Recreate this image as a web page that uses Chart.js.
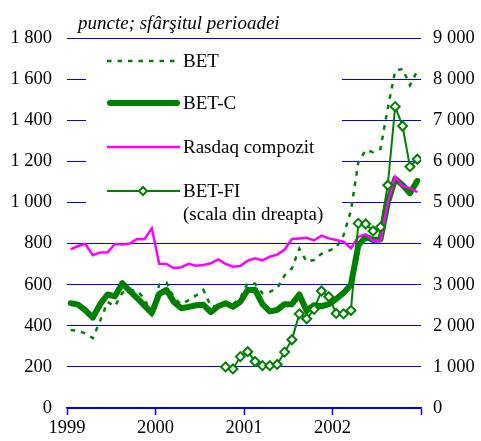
<!DOCTYPE html>
<html>
<head>
<meta charset="utf-8">
<script src="https://cdn.jsdelivr.net/npm/chart.js@4"></script>
<style>
  body { margin: 0; background: #fff; }
</style>
</head>
<body>
<canvas id="chart" width="481" height="441"></canvas>
<script>
// luni ian. 1999 - dec. 2002 (48 de valori), sfarsitul perioadei
const years = ['1999', '2000', '2001', '2002'];

const bet = [
  380, 375, 363, 340, 425, 515, 495, 560, 572, 572, 530, 455,
  600, 610, 535, 505, 525, 548, 574, 495, 495, 512, 505, 535,
  607, 605, 558, 565, 582, 645, 680, 775, 712, 720, 750, 765,
  780, 840, 960, 1195, 1255, 1245, 1260, 1460, 1640, 1650, 1570, 1640
];
const betC = [
  510, 503, 475, 440, 505, 552, 543, 607, 570, 535, 498, 462,
  555, 574, 515, 485, 492, 500, 502, 466, 495, 510, 492, 517,
  574, 575, 505, 470, 477, 505, 505, 552, 472, 500, 495, 505,
  530, 560, 600, 790, 833, 817, 820, 1000, 1115, 1085, 1045, 1105
];
const rasdaq = [
  772, 788, 798, 743, 757, 757, 798, 795, 800, 822, 821, 874,
  702, 701, 680, 685, 701, 692, 696, 704, 723, 701, 687, 691,
  717, 728, 718, 736, 746, 770, 822, 825, 828, 815, 838, 825,
  817, 809, 777, 833, 845, 814, 814, 1000, 1125, 1080, 1070, 1050
];
// BET-FI incepe in oct. 2000 (scala din dreapta)
const betFI = [
  null, null, null, null, null, null, null, null, null, null, null, null,
  null, null, null, null, null, null, null, null, null, 1000, 950, 1250,
  1370, 1130, 1030, 1030, 1060, 1360, 1660, 2290, 2170, 2400, 2845, 2707,
  2300, 2290, 2370, 4490, 4475, 4305, 4400, 5420, 7330, 6860, 5870, 6050
];

const GREEN = '#008000';
const PINK = '#ff00ff';
const BLUE = '#0000ff';
const FONT = 'Liberation Serif';

function toPoints(arr) {
  return arr.map((v, i) => ({ x: i + 0.5, y: v }));
}

function fmt(v) {
  if (v >= 1000) return Math.floor(v / 1000) + ' ' + String(v % 1000).padStart(3, '0');
  return String(v);
}

function stepTicks(max, step) {
  const t = [];
  for (let v = 0; v <= max; v += step) t.push({ value: v });
  return t;
}

// titlu + legenda desenate pe canvas
const legendPlugin = {
  id: 'legendBox',
  beforeDatasetsDraw(chart) {
    const ctx = chart.ctx;
    ctx.save();
    ctx.fillStyle = '#fff';
    ctx.fillRect(86, 44, 256, 182);

    ctx.font = '19px "' + FONT + '"';
    ctx.fillStyle = '#000';
    ctx.textBaseline = 'middle';
    ctx.textAlign = 'left';

    // BET
    ctx.strokeStyle = GREEN;
    ctx.lineWidth = 2.5;
    ctx.setLineDash([4.5, 6]);
    ctx.beginPath(); ctx.moveTo(107, 61); ctx.lineTo(180, 61); ctx.stroke();
    ctx.setLineDash([]);
    ctx.fillText('BET', 183, 62);

    // BET-C
    ctx.lineWidth = 6;
    ctx.lineCap = 'round';
    ctx.beginPath(); ctx.moveTo(110, 103); ctx.lineTo(177, 103); ctx.stroke();
    ctx.lineCap = 'butt';
    ctx.fillText('BET-C', 183, 104);

    // Rasdaq
    ctx.strokeStyle = PINK;
    ctx.lineWidth = 2.5;
    ctx.beginPath(); ctx.moveTo(107, 147); ctx.lineTo(180, 147); ctx.stroke();
    ctx.fillText('Rasdaq compozit', 183, 148);

    // BET-FI
    ctx.strokeStyle = GREEN;
    ctx.lineWidth = 2;
    ctx.beginPath(); ctx.moveTo(107, 191); ctx.lineTo(180, 191); ctx.stroke();
    ctx.fillStyle = '#fff';
    ctx.beginPath();
    ctx.moveTo(139, 191); ctx.lineTo(143, 187); ctx.lineTo(147, 191); ctx.lineTo(143, 195);
    ctx.closePath(); ctx.fill(); ctx.stroke();
    ctx.fillStyle = '#000';
    ctx.fillText('BET-FI', 183, 192);
    ctx.fillText('(scala din dreapta)', 183, 215);
    ctx.restore();
  },
  afterDraw(chart) {
    const ctx = chart.ctx;
    ctx.save();
    ctx.font = 'italic 19px "' + FONT + '"';
    ctx.fillStyle = '#000';
    ctx.textBaseline = 'middle';
    ctx.fillText('puncte; sfârşitul perioadei', 78, 24);
    ctx.restore();
  }
};

const ctx = document.getElementById('chart').getContext('2d');
const chart = new Chart(ctx, {
  type: 'line',
  data: {
    datasets: [
      {
        label: 'BET-FI (scala din dreapta)',
        data: toPoints(betFI),
        yAxisID: 'y1',
        borderColor: GREEN,
        borderWidth: 2,
        pointStyle: 'rectRot',
        pointRadius: 4.5,
        pointBorderWidth: 2,
        pointBackgroundColor: '#fff',
        pointBorderColor: GREEN,
        order: 1
      },
      {
        label: 'Rasdaq compozit',
        data: toPoints(rasdaq),
        yAxisID: 'y',
        borderColor: PINK,
        borderWidth: 2.5,
        pointRadius: 0,
        order: 2
      },
      {
        label: 'BET-C',
        data: toPoints(betC),
        yAxisID: 'y',
        borderColor: GREEN,
        borderWidth: 6,
        borderCapStyle: 'round',
        borderJoinStyle: 'round',
        pointRadius: 0,
        order: 3
      },
      {
        label: 'BET',
        data: toPoints(bet),
        yAxisID: 'y',
        borderColor: GREEN,
        borderWidth: 2.5,
        borderDash: [4.5, 6],
        pointRadius: 0,
        order: 4
      }
    ]
  },
  options: {
    responsive: false,
    animation: false,
    devicePixelRatio: 1,
    layout: { padding: { top: 38, left: 0, right: 0, bottom: 0 } },
    plugins: { legend: { display: false }, tooltip: { enabled: false } },
    elements: { line: { tension: 0 } },
    scales: {
      x: {
        type: 'linear',
        min: 0,
        max: 48,
        afterBuildTicks: s => { s.ticks = stepTicks(48, 12); },
        afterFit: s => { s.height = 33; },
        ticks: {
          autoSkip: false,
          maxRotation: 0,
          padding: 2,
          color: '#000',
          font: { family: FONT, size: 18.5 },
          callback: v => years[v / 12] || ''
        },
        grid: { drawOnChartArea: false, color: BLUE, tickLength: 7, tickWidth: 1.5 },
        border: { display: true, color: BLUE, width: 1.5 }
      },
      y: {
        position: 'left',
        min: 0,
        max: 1800,
        afterBuildTicks: s => { s.ticks = stepTicks(1800, 200); },
        afterFit: s => { s.width = 67; },
        ticks: {
          padding: 15,
          color: '#000',
          font: { family: FONT, size: 18.5 },
          callback: v => fmt(v)
        },
        grid: { color: BLUE, drawTicks: false },
        border: { display: false }
      },
      y1: {
        position: 'right',
        min: 0,
        max: 9000,
        afterBuildTicks: s => { s.ticks = stepTicks(9000, 1000); },
        afterFit: s => { s.width = 60; },
        ticks: {
          padding: 12,
          color: '#000',
          font: { family: FONT, size: 18.5 },
          callback: v => fmt(v)
        },
        grid: { drawOnChartArea: false, drawTicks: false },
        border: { display: false }
      }
    }
  },
  plugins: [legendPlugin]
});
</script>
</body>
</html>
